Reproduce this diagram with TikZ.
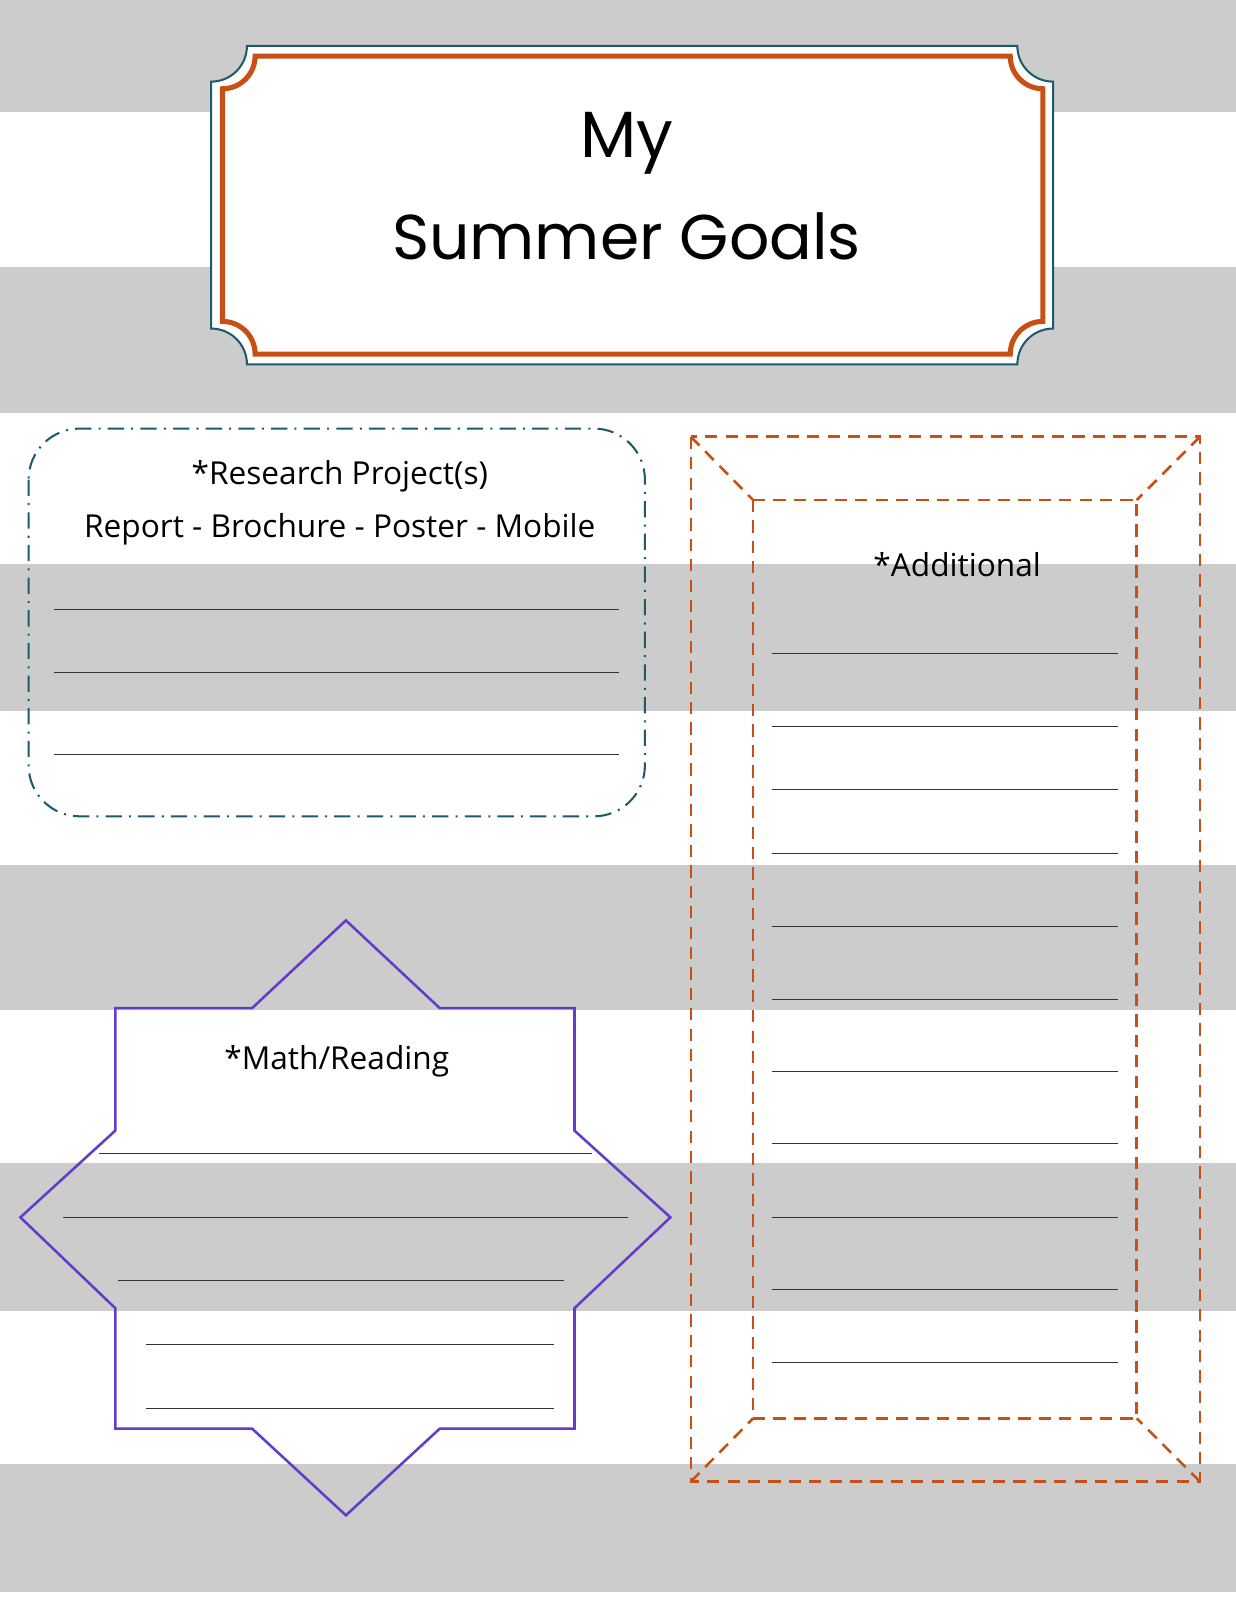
\documentclass[tikz,border=0pt]{standalone}
\usepackage{fontspec}
\setmainfont{Poppins}
\newfontfamily\hand{Open Sans}
\definecolor{stripe}{RGB}{204,204,204}
\definecolor{teal}{RGB}{30,90,110}
\definecolor{rust}{RGB}{200,80,20}
\definecolor{purp}{RGB}{100,60,200}
\begin{document}
\begin{tikzpicture}[x=1pt,y=-1pt,
  wline/.style={line width=0.9pt,black!80},
  lbl/.style={font=\hand\fontsize{31}{34}\selectfont}]
\useasboundingbox (0,0) rectangle (1211,1568);
\fill[white] (0,0) rectangle (1211,1568);
\foreach \a/\b in {0/110,262/405,553/697,848/990,1140/1285,1435/1560}
  \fill[stripe] (0,\a) rectangle (1211,\b);
% title frame
\fill[white,draw=teal,line width=2pt] (242,45) -- (997,45) arc[start angle=180,end angle=90,radius=35] -- (1032,322) arc[start angle=270,end angle=180,radius=35] -- (242,357) arc[start angle=0,end angle=-90,radius=35] -- (207,80) arc[start angle=90,end angle=0,radius=35] -- cycle;
\draw[rust,line width=5pt] (250,55) -- (990,55) arc[start angle=180,end angle=90,radius=32] -- (1022,315) arc[start angle=270,end angle=180,radius=32] -- (250,347) arc[start angle=0,end angle=-90,radius=32] -- (218,87) arc[start angle=90,end angle=0,radius=32] -- cycle;
\node[font=\fontsize{64}{70}\selectfont] (my) at (614,140) {My};
\node[font=\fontsize{62}{66}\selectfont] (sg) at (614,232) {Summer Goals};
% research
\draw[teal,line width=2pt,dash pattern=on 16pt off 7pt on 2pt off 7pt,rounded corners=50] (28,420) rectangle (632,800);
\node[lbl] (rp) at (333,467) {*Research Project(s)};
\node[lbl] (rb) at (333,519) {Report - Brochure - Poster - Mobile};
\foreach \y in {597,659,739} \draw[wline] (53,\y) -- (607,\y);
% star
\draw[purp,line width=2.5pt,line join=miter] (339,902) -- (431,988) -- (563,988) -- (563,1108) -- (657,1193) -- (563,1282) -- (563,1400) -- (431,1400) -- (339,1485) -- (247,1400) -- (113,1400) -- (113,1282) -- (20,1193) -- (113,1108) -- (113,988) -- (247,988) -- cycle;
\node[lbl] (mr) at (330,1040) {*Math/Reading};
\draw[wline] (97,1130) -- (580,1130);
\draw[wline] (62,1193) -- (615,1193);
\draw[wline] (116,1255) -- (553,1255);
\draw[wline] (143,1318) -- (543,1318);
\draw[wline] (143,1380) -- (543,1380);
% additional
\begin{scope}[rust,line width=2.5pt,dash pattern=on 12pt off 8pt]
\draw (677,428) rectangle (1176,1452);
\draw (738,490) rectangle (1114,1390);
\draw (677,428) -- (738,490);
\draw (1176,428) -- (1114,490);
\draw (677,1452) -- (738,1390);
\draw (1176,1452) -- (1114,1390);
\end{scope}
\node[lbl] (ad) at (938,553) {*Additional};
\foreach \y in {640,712,774,836,908,979,1050,1121,1193,1264,1335} \draw[wline] (757,\y) -- (1096,\y);
\end{tikzpicture}
\end{document}
